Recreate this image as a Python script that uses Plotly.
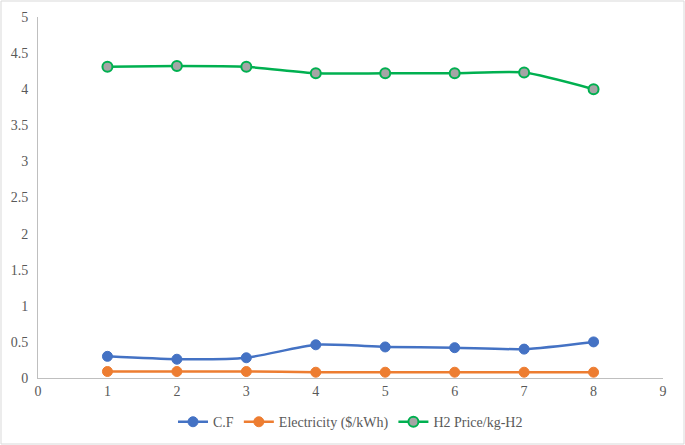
import plotly.graph_objects as go

x_vals = [1, 2, 3, 4, 5, 6, 7, 8]
cf = [0.30, 0.26, 0.28, 0.46, 0.43, 0.42, 0.40, 0.50]
electricity = [0.09, 0.09, 0.09, 0.08, 0.08, 0.08, 0.08, 0.08]
h2_price = [4.31, 4.32, 4.31, 4.22, 4.22, 4.22, 4.23, 4.00]

W, H = 685, 445
ml, mr, mt, mb = 38, 22, 17, 67
pw, ph = W - ml - mr, H - mt - mb
FONT = "Liberation Serif"

fig = go.Figure()
fig.add_trace(go.Scatter(
    x=x_vals, y=cf, name="C.F", mode="lines+markers",
    line=dict(color="#4472C4", width=2.5, shape="spline", smoothing=0.6),
    marker=dict(color="#4472C4", size=10, line=dict(color="#4472C4", width=1))))
fig.add_trace(go.Scatter(
    x=x_vals, y=electricity, name="Electricity ($/kWh)", mode="lines+markers",
    line=dict(color="#ED7D31", width=2.5, shape="spline", smoothing=0.6),
    marker=dict(color="#ED7D31", size=10, line=dict(color="#ED7D31", width=1))))
fig.add_trace(go.Scatter(
    x=x_vals, y=h2_price, name="H2 Price/kg-H2", mode="lines+markers",
    line=dict(color="#00B050", width=2.5, shape="spline", smoothing=0.6),
    marker=dict(color="#A5A5A5", size=10, line=dict(color="#00B050", width=2))))

fig.update_layout(
    width=W, height=H,
    margin=dict(l=ml, r=mr, t=mt, b=mb, autoexpand=False),
    paper_bgcolor="white", plot_bgcolor="white",
    font=dict(family=FONT, size=14, color="#595959"),
    showlegend=True,
    legend=dict(orientation="h", x=0.5, xanchor="center", y=-0.078, yanchor="top",
                font=dict(family=FONT, size=14, color="#595959"), itemwidth=30),
    xaxis=dict(range=[0, 9], tickvals=list(range(0, 10)), showgrid=False, zeroline=False,
               showline=True, linecolor="#BFBFBF", linewidth=1, ticks="", automargin=False,
               tickfont=dict(family=FONT, size=14, color="#595959")),
    yaxis=dict(range=[0, 5], tickvals=[0, 0.5, 1, 1.5, 2, 2.5, 3, 3.5, 4, 4.5, 5],
               ticktext=["0", "0.5", "1", "1.5", "2", "2.5", "3", "3.5", "4", "4.5", "5"],
               showgrid=False, zeroline=False, showline=True, linecolor="#BFBFBF",
               linewidth=1, ticks="", ticklabelstandoff=6, automargin=False,
               tickfont=dict(family=FONT, size=14, color="#595959")),
    shapes=[dict(type="rect", xref="paper", yref="paper",
                 x0=-(ml - 1) / pw, x1=1 + (mr - 1) / pw,
                 y0=-(mb - 1) / ph, y1=1 + (mt - 1) / ph,
                 line=dict(color="#D9D9D9", width=1), layer="below")],
)

fig.write_html("out.html", config={"displayModeBar": False},
               post_script="document.body.style.margin='0';document.body.style.padding='0';")
